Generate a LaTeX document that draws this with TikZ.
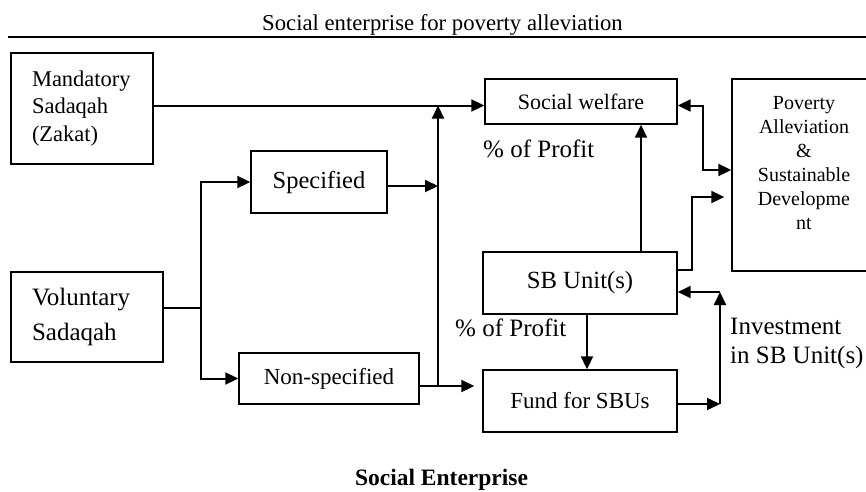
\documentclass[tikz,border=0pt]{standalone}
\usepackage{fontspec}
\setmainfont{Liberation Serif}
\usetikzlibrary{arrows.meta}
\newcommand\fsz[2]{\fontsize{#1}{#2}\selectfont}
\begin{document}
\begin{tikzpicture}[x=1pt,y=-1pt,
  box/.style={draw, line width=1.4pt, inner sep=0pt, align=center},
  conn/.style={line width=2pt, line join=miter},
  arr/.style={conn, -{Triangle[length=13pt,width=12pt]}},
  dbl/.style={conn, {Triangle[length=13pt,width=12pt]}-{Triangle[length=13pt,width=12pt]}},
  lbl/.style={inner sep=0pt, anchor=west, align=left}]
\useasboundingbox (0,0) rectangle (866,491);

% heading and rule
\node[inner sep=0pt, anchor=base, font={\fsz{22.7}{27}}] (title) at (442.5,30) {Social enterprise for poverty alleviation};
\draw[line width=1.5pt] (8,37) -- (866,37);

% boxes
\node[box, minimum width=142, minimum height=111, align=left, text width=100, inner xsep=21pt,
  font={\fsz{22.5}{27.5}}] (mand) at (82,108.5) {Mandatory\\Sadaqah\\(Zakat)};
\node[box, minimum width=152, minimum height=90, align=left, text width=110, inner xsep=21pt,
  font={\fsz{25}{35}}] (vol) at (87,317) {Voluntary\\Sadaqah};
\node[box, minimum width=136, minimum height=62, font={\fsz{24.5}{29}}] (spec) at (319,182) {Specified};
\node[box, minimum width=180, minimum height=51, font={\fsz{23}{28}}] (nonspec) at (329,378.5) {Non-specified};
\node[box, minimum width=192, minimum height=45, font={\fsz{22}{26}}] (welfare) at (581,101.5) {Social welfare};
\node[box, minimum width=194, minimum height=62, font={\fsz{24.7}{29}}] (sbu) at (580,283) {SB Unit(s)};
\node[box, minimum width=194, minimum height=62, font={\fsz{23}{28}}] (fund) at (580,401) {Fund for SBUs};
\node[box, minimum width=144, minimum height=192] (pov) at (804,175) {};
\node[inner sep=0pt, align=center, font={\fsz{20}{24}}] (povtxt) at (804,163)
  {Poverty\\Alleviation\\\&\\Sustainable\\Developme\\nt};

% junction points
\coordinate (jtop) at (438,105.5);
\coordinate (jmid) at (438,186);
\coordinate (jbot) at (438,386);
\coordinate (fork) at (201,308);
\coordinate (ir) at (720,404);
\coordinate (it) at (720,292);
\coordinate (wpa) at (703,105.5);
\coordinate (wpb) at (703,170);
\coordinate (spa) at (692,270);
\coordinate (spb) at (692,197);

% connectors
\draw[arr] (mand.east |- jtop) -- (welfare.west |- jtop);
\draw[arr] (jbot) -- (jtop);
\draw[arr] (spec.east |- jmid) -- (jmid);
\draw[conn] (vol.east |- fork) -- (fork);
\draw[arr] (fork) |- (spec.west);
\draw[arr] (fork) |- (nonspec.west);
\draw[arr, shorten >=8pt] (nonspec.east |- jbot) -- (jbot) -- (fund.west |- jbot);
\draw[arr] ([xshift=61pt]sbu.north) -- ([xshift=61pt]sbu.north |- welfare.south);
\draw[arr] ([xshift=7pt]sbu.south) -- ([xshift=7pt]fund.north);
\draw[arr] (fund.east |- ir) -- (ir);
\draw[arr] (ir) -- (it);
\draw[arr] (it) -- (sbu.east |- it);
\draw[dbl] (welfare.east |- wpa) -- (wpa) -- (wpb) -- (pov.west |- wpb);
\draw[arr, shorten >=7pt] (sbu.east |- spa) -- (spa) -- (spb) -- (pov.west |- spb);

% labels
\node[lbl, font={\fsz{25}{29}}] (pp1) at (483,149) {\% of Profit};
\node[lbl, font={\fsz{25}{29}}] (pp2) at (455,328) {\% of Profit};
\node[lbl, font={\fsz{25}{29}}] (inv) at (730,343.5) {Investment\\in SB Unit(s)};

% caption
\node[inner sep=0pt, anchor=base, font={\fsz{23.5}{28}\bfseries}] (cap) at (441.5,485) {Social Enterprise};
\end{tikzpicture}
\end{document}
